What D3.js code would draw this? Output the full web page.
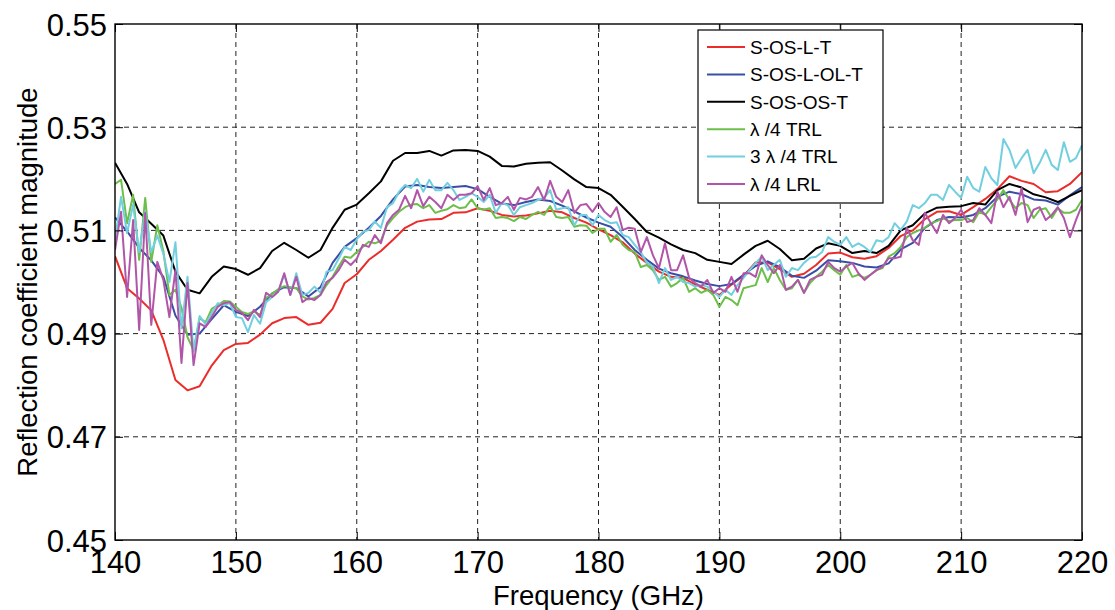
<!DOCTYPE html>
<html><head><meta charset="utf-8">
<script src="https://cdn.jsdelivr.net/npm/d3@7/dist/d3.min.js"></script>
<style>body{margin:0;background:#fff}svg{display:block}</style>
</head><body>
<svg id="c" width="1115" height="610"></svg>
<script>
// sample grids (GHz)
const freqCoarse = d3.range(140, 220.001, 1);    // 1 GHz grid for smooth traces
const freqFine = d3.range(140, 220.001, 0.5);    // 0.5 GHz grid for noisy traces

const xTicks = [140,150,160,170,180,190,200,210,220];
const yTicks = [0.45,0.47,0.49,0.51,0.53,0.55];
const yTickLabels = ["0.45","0.47","0.49","0.51","0.53","0.55"];
const seriesNames = ["S-OS-L-T","S-OS-L-OL-T","S-OS-OS-T","\u03bb /4 TRL","3 \u03bb /4 TRL","\u03bb /4 LRL"];
const seriesColors = ["#ec2c2a","#3a4ea6","#000000","#6cbf4a","#72cfdf","#b155a8"];

// S-OS-L-T (1 GHz)
const red = [0.5050,0.4988,0.4968,0.4945,0.4888,0.4810,0.4790,0.4798,0.4838,0.4868,
0.4880,0.4882,0.4898,0.4920,0.4930,0.4932,0.4917,0.4921,0.4948,0.4998,
0.5015,0.5043,0.5060,0.5082,0.5105,0.5117,0.5121,0.5122,0.5134,0.5135,
0.5143,0.5138,0.5130,0.5127,0.5129,0.5133,0.5138,0.5135,0.5124,0.5115,
0.5102,0.5091,0.5077,0.5055,0.5037,0.5020,0.5010,0.5008,0.4995,0.4985,
0.4975,0.4995,0.5012,0.5038,0.5038,0.5025,0.5010,0.5016,0.5033,0.5055,
0.5057,0.5048,0.5045,0.5050,0.5066,0.5089,0.5100,0.5122,0.5136,0.5137,
0.5130,0.5145,0.5161,0.5180,0.5205,0.5196,0.5190,0.5174,0.5176,0.5190,0.5213];

// S-OS-L-OL-T (1 GHz)
const blue = [0.5125,0.5098,0.5066,0.5042,0.5010,0.4935,0.4898,0.4900,0.4928,0.4955,
0.4942,0.4934,0.4952,0.4978,0.4990,0.4988,0.4972,0.4990,0.5037,0.5068,
0.5085,0.5105,0.5128,0.5160,0.5185,0.5188,0.5184,0.5182,0.5184,0.5186,
0.5180,0.5165,0.5152,0.5149,0.5155,0.5160,0.5157,0.5148,0.5137,0.5125,
0.5115,0.5107,0.5087,0.5062,0.5043,0.5026,0.5017,0.5011,0.5003,0.4996,
0.4992,0.4996,0.5014,0.5031,0.5040,0.5029,0.5012,0.5008,0.5022,0.5042,
0.5040,0.5037,0.5030,0.5028,0.5036,0.5063,0.5076,0.5105,0.5120,0.5126,
0.5125,0.5130,0.5143,0.5165,0.5175,0.5170,0.5160,0.5158,0.5150,0.5168,0.5184];

// S-OS-OS-T (1 GHz)
const black = [0.5231,0.5190,0.5135,0.5113,0.5090,0.5020,0.4985,0.4978,0.5010,0.5030,
0.5025,0.5014,0.5027,0.5060,0.5076,0.5062,0.5047,0.5062,0.5105,0.5140,
0.5150,0.5172,0.5195,0.5235,0.5250,0.5250,0.5254,0.5245,0.5255,0.5256,
0.5254,0.5243,0.5225,0.5224,0.5229,0.5231,0.5232,0.5216,0.5199,0.5184,
0.5182,0.5169,0.5146,0.5122,0.5097,0.5086,0.5073,0.5062,0.5056,0.5043,
0.5039,0.5035,0.5053,0.5070,0.5080,0.5064,0.5042,0.5045,0.5065,0.5075,
0.5070,0.5056,0.5060,0.5056,0.5070,0.5100,0.5110,0.5133,0.5144,0.5146,
0.5147,0.5153,0.5150,0.5178,0.5190,0.5183,0.5170,0.5164,0.5155,0.5167,0.5178];

// lambda/4 TRL (0.5 GHz)
const green = [0.5190,0.5198,0.5114,0.5169,0.5043,0.5163,0.5039,0.5110,0.5060,0.4975,
0.4985,0.4950,0.4893,0.4868,0.4930,0.4922,0.4948,0.4955,0.4963,0.4962,
0.4952,0.4942,0.4938,0.4943,0.4936,0.4969,0.4977,0.4986,0.4992,0.4990,
0.4988,0.4972,0.4966,0.4969,0.4975,0.4994,0.5010,0.5030,0.5049,0.5047,0.5058,
0.5068,0.5078,0.5075,0.5080,0.5110,0.5124,0.5136,0.5145,0.5150,0.5151,
0.5143,0.5149,0.5134,0.5138,0.5141,0.5149,0.5143,0.5145,0.5160,0.5143,
0.5140,0.5143,0.5124,0.5126,0.5124,0.5118,0.5126,0.5122,0.5130,0.5136,
0.5130,0.5147,0.5126,0.5124,0.5126,0.5107,0.5110,0.5109,0.5095,0.5103,
0.5103,0.5078,0.5091,0.5072,0.5062,0.5058,0.5029,0.5033,0.5023,0.5004,
0.5010,0.4991,0.4998,0.5008,0.4981,0.4988,0.4979,0.4985,0.4975,0.4952,
0.4971,0.4965,0.4955,0.4988,0.4991,0.4994,0.5027,0.5000,0.5027,0.5004,
0.4985,0.4988,0.5004,0.4979,0.4998,0.5010,0.5020,0.5033,0.5023,0.5014,
0.5033,0.5010,0.5014,0.5008,0.5014,0.5023,0.5027,0.5049,0.5056,0.5068,
0.5087,0.5095,0.5100,0.5105,0.5114,0.5118,0.5124,0.5118,0.5120,0.5120,
0.5124,0.5116,0.5136,0.5130,0.5145,0.5160,0.5178,0.5159,0.5143,0.5153,
0.5149,0.5124,0.5140,0.5143,0.5124,0.5143,0.5134,0.5134,0.5140,0.5159];

// 3 lambda/4 TRL (0.5 GHz)
const cyan = [0.5081,0.5165,0.5095,0.5150,0.5058,0.5137,0.5058,0.5090,0.5055,0.5000,
0.5077,0.4910,0.5010,0.4865,0.4934,0.4918,0.4940,0.4959,0.4955,0.4959,
0.4932,0.4930,0.4903,0.4936,0.4919,0.4961,0.4971,0.4981,0.5014,0.4975,
0.5017,0.4975,0.4979,0.4991,0.4979,0.5020,0.5023,0.5045,0.5068,0.5062,0.5083,
0.5097,0.5101,0.5117,0.5105,0.5145,0.5153,0.5175,0.5188,0.5182,0.5200,
0.5175,0.5198,0.5178,0.5178,0.5192,0.5178,0.5159,0.5165,0.5172,0.5165,
0.5155,0.5169,0.5134,0.5153,0.5149,0.5130,0.5145,0.5149,0.5153,0.5159,
0.5163,0.5178,0.5140,0.5143,0.5145,0.5110,0.5130,0.5130,0.5110,0.5130,
0.5120,0.5114,0.5116,0.5091,0.5087,0.5072,0.5058,0.5037,0.5030,0.4998,
0.5027,0.5004,0.5010,0.5000,0.4998,0.4991,0.4994,0.4991,0.4982,0.4971,
0.4985,0.4975,0.4994,0.5008,0.5023,0.5037,0.5049,0.5023,0.5033,0.5043,
0.5010,0.5027,0.5023,0.5037,0.5047,0.5049,0.5058,0.5087,0.5078,0.5072,
0.5087,0.5068,0.5075,0.5068,0.5058,0.5081,0.5078,0.5087,0.5114,0.5101,
0.5117,0.5149,0.5143,0.5153,0.5169,0.5169,0.5159,0.5188,0.5175,0.5163,
0.5204,0.5182,0.5175,0.5223,0.5201,0.5188,0.5277,0.5256,0.5221,0.5240,
0.5256,0.5211,0.5231,0.5256,0.5227,0.5217,0.5271,0.5233,0.5240,0.5265];

// lambda/4 LRL (0.5 GHz)
const magenta = [0.5062,0.5136,0.4971,0.5120,0.4907,0.5134,0.4917,0.5039,0.5004,0.4932,
0.5023,0.4843,0.4998,0.4839,0.4920,0.4913,0.4932,0.4952,0.4959,0.4961,
0.4946,0.4940,0.4926,0.4946,0.4932,0.4979,0.4971,0.4981,0.5017,0.4975,
0.5010,0.4961,0.4969,0.4965,0.4975,0.5000,0.5008,0.5023,0.5043,0.5033,0.5045,
0.5072,0.5068,0.5091,0.5075,0.5114,0.5130,0.5140,0.5167,0.5143,0.5178,
0.5147,0.5165,0.5155,0.5143,0.5169,0.5159,0.5169,0.5169,0.5172,0.5186,
0.5159,0.5182,0.5149,0.5153,0.5165,0.5140,0.5163,0.5160,0.5165,0.5184,
0.5159,0.5196,0.5165,0.5155,0.5178,0.5134,0.5149,0.5151,0.5136,0.5153,
0.5136,0.5126,0.5145,0.5101,0.5105,0.5103,0.5058,0.5087,0.5052,0.5027,
0.5075,0.5023,0.5023,0.5052,0.5008,0.4998,0.4991,0.5004,0.4979,0.4988,
0.4981,0.5010,0.4981,0.5017,0.5017,0.5010,0.5052,0.5033,0.5017,0.5033,
0.4985,0.4991,0.5004,0.4979,0.5004,0.5010,0.5014,0.5039,0.5027,0.5020,
0.5030,0.5037,0.5017,0.5004,0.5014,0.5023,0.5030,0.5046,0.5046,0.5049,
0.5105,0.5081,0.5072,0.5134,0.5114,0.5095,0.5130,0.5114,0.5124,0.5140,
0.5116,0.5120,0.5143,0.5130,0.5114,0.5175,0.5145,0.5165,0.5130,0.5182,
0.5116,0.5140,0.5145,0.5120,0.5130,0.5145,0.5124,0.5087,0.5120,0.5149];

const seriesData = [
  {x: freqCoarse, y: red},
  {x: freqCoarse, y: blue},
  {x: freqCoarse, y: black},
  {x: freqFine, y: green},
  {x: freqFine, y: cyan},
  {x: freqFine, y: magenta}
];

const svg = d3.select("#c");
const L = 115, R = 1082, T = 24, B = 540;
const x = d3.scaleLinear().domain([140,220]).range([L,R]);
const y = d3.scaleLinear().domain([0.45,0.55]).range([B,T]);
const font = "Liberation Sans, Arial, Helvetica, sans-serif";

// grid
const g = svg.append("g");
g.selectAll(".vg").data(xTicks.slice(1,-1)).enter().append("line")
  .attr("x1", d=>x(d)).attr("x2", d=>x(d)).attr("y1", T).attr("y2", B)
  .attr("stroke", "#222").attr("stroke-width", 1).attr("stroke-dasharray", "5,4");
g.selectAll(".hg").data(yTicks.slice(1,-1)).enter().append("line")
  .attr("y1", d=>y(d)).attr("y2", d=>y(d)).attr("x1", L).attr("x2", R)
  .attr("stroke", "#222").attr("stroke-width", 1).attr("stroke-dasharray", "5,4");

// lines
svg.append("clipPath").attr("id","pc").append("rect")
  .attr("x", L).attr("y", T).attr("width", R-L).attr("height", B-T);
const lineGen = d3.line();
const lg = svg.append("g").attr("clip-path","url(#pc)");
seriesData.forEach((s,i)=>{
  const pts = s.x.map((f,k)=>[x(f), y(s.y[k])]);
  lg.append("path").attr("d", lineGen(pts)).attr("fill","none")
    .attr("stroke", seriesColors[i]).attr("stroke-width", 2).attr("stroke-linejoin","round");
});

// axes with inward ticks
const ax = svg.append("g");
const xa = ax.append("g").attr("transform", `translate(0,${B})`)
  .call(d3.axisBottom(x).tickValues(xTicks).tickSize(-8).tickPadding(11).tickFormat(d3.format("d")));
const xt = ax.append("g").attr("transform", `translate(0,${T})`)
  .call(d3.axisTop(x).tickValues(xTicks).tickSize(-8).tickFormat(""));
const ya = ax.append("g").attr("transform", `translate(${L},0)`)
  .call(d3.axisLeft(y).tickValues(yTicks).tickSize(-8).tickPadding(8).tickFormat((d,i)=>yTickLabels[i]));
const yr = ax.append("g").attr("transform", `translate(${R},0)`)
  .call(d3.axisRight(y).tickValues(yTicks).tickSize(-8).tickFormat(""));
[xa,xt,ya,yr].forEach(a=>{
  a.select(".domain").remove();
  a.selectAll(".tick line").attr("stroke","#000").attr("stroke-width",1);
  a.selectAll("text").attr("font-family", font).attr("font-size", 31).attr("fill","#000");
});
xa.selectAll("text").attr("dy","0.71em");
ya.selectAll("text").attr("dy","0.36em");

svg.append("rect").attr("x",L).attr("y",T).attr("width",R-L).attr("height",B-T)
  .attr("fill","none").attr("stroke","#000").attr("stroke-width",1.4);

// axis titles
svg.append("text").attr("x", (L+R)/2).attr("y", 605).attr("text-anchor","middle")
  .attr("font-family", font).attr("font-size", 27.5).text("Frequency (GHz)");
svg.append("text").attr("transform", `translate(37,${(T+B)/2}) rotate(-90)`).attr("text-anchor","middle")
  .attr("font-family", font).attr("font-size", 27.5).text("Reflection coefficient magnitude");

// legend
const lx = 698, ly = 30, lw = 185, lh = 173;
const leg = svg.append("g");
leg.append("rect").attr("x",lx).attr("y",ly).attr("width",lw).attr("height",lh)
  .attr("fill","#fff").attr("stroke","#000").attr("stroke-width",1.2);
seriesNames.forEach((n,i)=>{
  const cy = 47 + i*27.4;
  leg.append("line").attr("x1",707).attr("x2",745).attr("y1",cy).attr("y2",cy)
    .attr("stroke", seriesColors[i]).attr("stroke-width",2);
  leg.append("text").attr("x",750).attr("y",cy).attr("dy","0.36em")
    .attr("font-family", font).attr("font-size", 19).text(n);
});
</script>
</body></html>
